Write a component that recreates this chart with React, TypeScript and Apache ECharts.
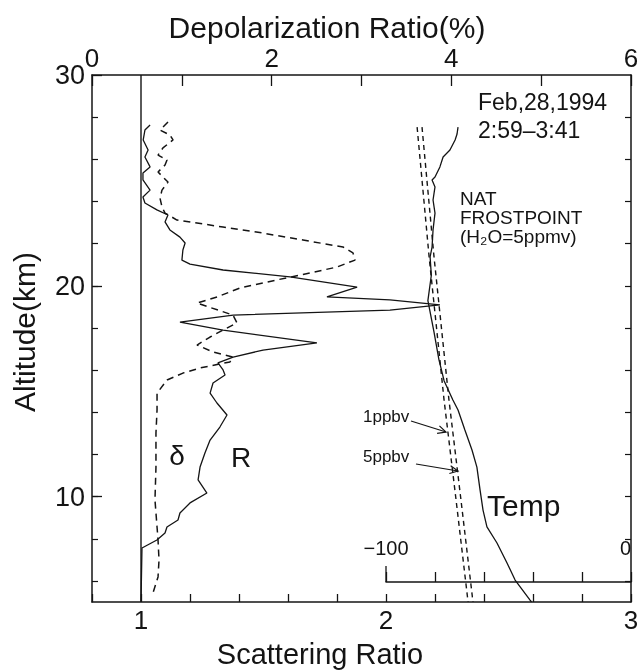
import React, { useEffect, useRef } from "react";
import * as echarts from "echarts";

// Scattering ratio R (solid)
const rAltitude = [27.63, 27.39, 26.92, 26.44, 26.11, 25.64, 25.35, 25.02, 24.54, 24.21, 23.93, 23.6, 23.36, 23.03, 22.65, 22.31, 22.03, 21.7, 21.22, 21.03, 20.75, 20.42, 19.94, 19.47, 19.33, 19.1, 18.85, 18.61, 18.28, 17.9, 17.29, 16.95, 16.62, 16.34, 16.01, 15.77, 15.39, 14.91, 14.44, 13.87, 13.3, 12.68, 12.07, 11.4, 10.79, 10.17, 9.7, 9.22, 8.89, 8.56, 8.27, 7.94, 7.56, 5.0];
const rRatio = [1.037, 1.016, 1.009, 1.029, 1.016, 1.037, 1.008, 1.008, 1.037, 1.008, 1.016, 1.065, 1.11, 1.098, 1.118, 1.159, 1.18, 1.171, 1.167, 1.2, 1.335, 1.608, 1.882, 1.759, 2.016, 2.22, 2.016, 1.376, 1.159, 1.335, 1.718, 1.498, 1.376, 1.314, 1.335, 1.343, 1.294, 1.282, 1.31, 1.351, 1.322, 1.282, 1.261, 1.241, 1.233, 1.269, 1.2, 1.159, 1.151, 1.106, 1.098, 1.065, 1.004, 1.0];

// Depolarization ratio delta (dashed), %
const dAltitude = [27.77, 27.39, 27.15, 26.92, 26.54, 26.2, 25.97, 25.73, 25.4, 25.16, 24.92, 24.54, 24.16, 23.74, 23.45, 23.12, 22.79, 22.5, 22.17, 21.84, 21.56, 21.22, 20.89, 20.61, 20.28, 19.9, 19.47, 19.18, 18.61, 18.24, 17.9, 17.57, 17.19, 16.86, 16.62, 16.39, 16.1, 15.86, 15.53, 14.91, 14.11, 13.02, 11.4, 9.84, 8.56, 7.94, 6.99, 6.19, 5.43];
const dRatio = [0.846, 0.757, 0.868, 0.902, 0.79, 0.735, 0.835, 0.813, 0.735, 0.79, 0.846, 0.779, 0.757, 0.779, 0.813, 0.946, 1.458, 1.904, 2.349, 2.794, 2.905, 2.928, 2.727, 2.427, 2.059, 1.648, 1.392, 1.169, 1.57, 1.614, 1.458, 1.314, 1.169, 1.347, 1.57, 1.536, 1.202, 1.013, 0.835, 0.724, 0.724, 0.712, 0.712, 0.701, 0.724, 0.735, 0.746, 0.735, 0.679];

// Temperature (degC)
const tAltitude = [27.53, 27.2, 26.92, 26.44, 26.11, 25.64, 25.16, 25.02, 24.69, 24.07, 23.45, 22.65, 21.84, 21.37, 20.5, 19.3, 17.8, 16.5, 15.5, 14.58, 14.11, 13.16, 12.21, 11.4, 10.31, 9.36, 8.56, 7.8, 6.85, 6.04, 5.09, 5.0];
const tValue = [-70.6, -71.0, -71.8, -73.9, -76.7, -78.0, -80.0, -81.2, -80.0, -80.8, -80.0, -80.8, -81.2, -82.0, -81.5, -82.9, -80.4, -78.4, -76.3, -72.7, -70.6, -67.8, -64.9, -62.9, -61.6, -60.4, -58.8, -54.7, -50.6, -47.3, -41.2, -40.6];

// NAT frostpoints (degC)
const fpAltitude = [27.53, 21.37, 14.58, 9.84, 5.0];
const fp1ppbv = [-87.3, -82.4, -76.3, -71.4, -66.5];
const fp5ppbv = [-85.3, -80.4, -74.3, -69.4, -64.5];

// reference line R = 1
const refRatio = [1, 1];
const refAltitude = [5, 30];

// axes
const srRange = [0.8, 3];
const srTicks = [0.8, 1, 1.2, 1.4, 1.6, 1.8, 2, 2.2, 2.4, 2.6, 2.8, 3];
const srLabels = [1, 2, 3];
const depRange = [0, 6];
const depTicks = [0, 1, 2, 3, 4, 5, 6];
const depLabels = [0, 2, 4, 6];
const altRange = [5, 30];
const altMinorTicks = [6, 8, 10, 12, 14, 16, 18, 20, 22, 24, 26, 28];
const altLabels = [10, 20, 30];
const tempRange = [-100, 0];
const tempTicks = [-100, -80, -60, -40, -20, 0];
const tempLabels = [-100, 0];

const zip = (a: number[], b: number[]) => a.map((v, i) => [v, b[i]]);

const FONT = "Liberation Sans";
const INK = "#141414";

function arrow(x1: number, y1: number, x2: number, y2: number) {
  const ang = Math.atan2(y2 - y1, x2 - x1);
  const L = 9;
  const a1 = ang + Math.PI - 0.45;
  const a2 = ang + Math.PI + 0.45;
  return [
    { type: "line", shape: { x1, y1, x2, y2 }, style: { stroke: INK, lineWidth: 1.2 } },
    {
      type: "polyline",
      shape: {
        points: [
          [x2 + L * Math.cos(a1), y2 + L * Math.sin(a1)],
          [x2, y2],
          [x2 + L * Math.cos(a2), y2 + L * Math.sin(a2)],
        ],
      },
      style: { stroke: INK, lineWidth: 1.2, fill: "none" },
    },
  ];
}

const txt = (text: string, x: number, y: number, size: number, align = "left", extra: any = {}) => ({
  type: "text",
  x,
  y,
  ...extra,
  style: {
    text,
    fontSize: size,
    fontFamily: FONT,
    fill: INK,
    align,
    verticalAlign: "middle",
    ...(extra.style || {}),
  },
});

export default function App() {
  const ref = useRef<HTMLDivElement>(null);
  useEffect(() => {
    const chart = echarts.init(ref.current!, null, { renderer: "svg" });
    const axisLine = { show: true, lineStyle: { color: INK, width: 1.5 } };
    const option: any = {
      animation: false,
      grid: [
        { left: 92, top: 75, width: 539, height: 527 },
        { left: 386, top: 75, width: 245, height: 527 },
      ],
      xAxis: [
        {
          type: "value", gridIndex: 0, position: "bottom", min: srRange[0], max: srRange[1],
          axisLine, splitLine: { show: false },
          axisTick: { show: true, inside: true, length: 8, customValues: srTicks, lineStyle: { color: INK, width: 1.3 } },
          axisLabel: {
            customValues: srLabels, margin: 5, fontSize: 26, fontFamily: FONT, color: INK,
            formatter: (v: number) => String(Math.round(v)),
          },
        },
        {
          type: "value", gridIndex: 0, position: "top", min: depRange[0], max: depRange[1],
          axisLine, splitLine: { show: false },
          axisTick: { show: true, inside: true, length: 11, customValues: depTicks, lineStyle: { color: INK, width: 1.3 } },
          axisLabel: { customValues: depLabels, margin: 4, fontSize: 26, fontFamily: FONT, color: INK },
        },
        {
          type: "value", gridIndex: 1, position: "bottom", offset: -20, min: tempRange[0], max: tempRange[1],
          axisLine, splitLine: { show: false },
          axisTick: { show: true, inside: true, length: 10, customValues: tempTicks, lineStyle: { color: INK, width: 1.3 } },
          axisLabel: {
            inside: true, customValues: tempLabels, margin: 24, fontSize: 20, fontFamily: FONT, color: INK,
            alignMaxLabel: "right",
            formatter: (v: number) => (v < 0 ? "\u2212" + Math.abs(v) : String(v)),
          },
        },
      ],
      yAxis: [
        {
          type: "value", gridIndex: 0, position: "left", min: altRange[0], max: altRange[1],
          axisLine, splitLine: { show: false },
          axisTick: { show: true, inside: true, length: 10, customValues: altLabels, lineStyle: { color: INK, width: 1.3 } },
          axisLabel: { customValues: altLabels, margin: 7, fontSize: 27, fontFamily: FONT, color: INK },
        },
        {
          type: "value", gridIndex: 0, position: "left", min: altRange[0], max: altRange[1],
          axisLine: { show: false }, splitLine: { show: false },
          axisTick: { show: true, inside: true, length: 6, customValues: altMinorTicks, lineStyle: { color: INK, width: 1.2 } },
          axisLabel: { show: false },
        },
        {
          type: "value", gridIndex: 0, position: "right", min: altRange[0], max: altRange[1],
          axisLine, splitLine: { show: false },
          axisTick: { show: true, inside: true, length: 6, customValues: altMinorTicks, lineStyle: { color: INK, width: 1.2 } },
          axisLabel: { show: false },
        },
        {
          type: "value", gridIndex: 1, show: false, min: altRange[0], max: altRange[1],
          splitLine: { show: false },
        },
      ],
      series: [
        {
          type: "line", name: "R=1", xAxisIndex: 0, yAxisIndex: 0, data: zip(refRatio, refAltitude),
          symbol: "none", lineStyle: { color: INK, width: 1.4 }, silent: true,
        },
        {
          type: "line", name: "R", xAxisIndex: 0, yAxisIndex: 0, data: zip(rRatio, rAltitude),
          symbol: "none", lineStyle: { color: INK, width: 1.3 }, silent: true,
        },
        {
          type: "line", name: "delta", xAxisIndex: 1, yAxisIndex: 0, data: zip(dRatio, dAltitude),
          symbol: "none", lineStyle: { color: INK, width: 1.5, type: [7, 5] }, silent: true,
        },
        {
          type: "line", name: "Temp", xAxisIndex: 2, yAxisIndex: 3, data: zip(tValue, tAltitude),
          symbol: "none", lineStyle: { color: INK, width: 1.3 }, silent: true,
        },
        {
          type: "line", name: "1ppbv", xAxisIndex: 2, yAxisIndex: 3, data: zip(fp1ppbv, fpAltitude),
          symbol: "none", lineStyle: { color: INK, width: 1.4, type: [5, 4] }, silent: true,
        },
        {
          type: "line", name: "5ppbv", xAxisIndex: 2, yAxisIndex: 3, data: zip(fp5ppbv, fpAltitude),
          symbol: "none", lineStyle: { color: INK, width: 1.4, type: [5, 4] }, silent: true,
        },
      ],
      graphic: [
        txt("Depolarization Ratio(%)", 327, 27, 30, "center"),
        txt("Scattering Ratio", 320, 654, 29, "center"),
        txt("Altitude(km)", 24, 332, 30, "center", { rotation: Math.PI / 2 }),
        txt("Feb,28,1994", 478, 102, 23),
        txt("2:59\u20133:41", 478, 130, 23),
        txt("NAT", 460, 198, 19),
        txt("FROSTPOINT", 460, 217, 19),
        txt("(H\u2082O=5ppmv)", 460, 236, 19),
        txt("1ppbv", 363, 416, 17),
        txt("5ppbv", 363, 456, 17),
        ...arrow(411, 421, 446, 432),
        ...arrow(416, 464, 458, 471),
        txt("\u03b4", 177, 455, 28, "center"),
        txt("R", 241, 457, 28, "center"),
        txt("Temp", 487, 505, 30),
        { type: "line", shape: { x1: 386, y1: 566, x2: 386, y2: 582 }, style: { stroke: INK, lineWidth: 1.3 } },
      ],
    };
    chart.setOption(option);
    return () => chart.dispose();
  }, []);
  return <div ref={ref} style={{ position: "fixed", left: 0, top: 0, width: 642, height: 672 }} />;
}
